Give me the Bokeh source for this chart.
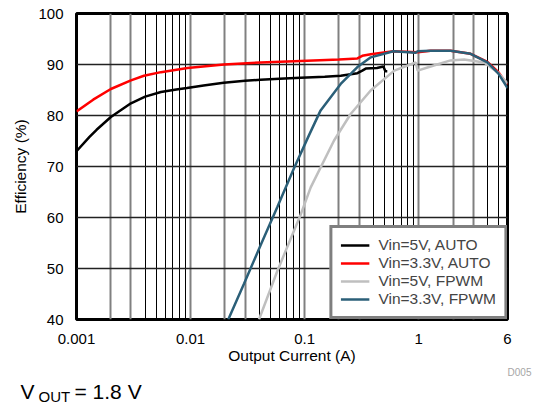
from bokeh.plotting import figure
from bokeh.layouts import column
from bokeh.models import FixedTicker, Grid, Legend, LegendItem, Label, CustomJSTickFormatter, Range1d
from bokeh.embed import file_html
from bokeh.resources import INLINE

# ---- data ----
x_5v_auto = [0.001, 0.0013, 0.0015, 0.002, 0.003, 0.004, 0.0055, 0.0075, 0.0093, 0.013, 0.0195,
             0.03, 0.041, 0.06, 0.092, 0.15, 0.207, 0.29, 0.32, 0.343, 0.43, 0.49, 0.51, 0.53]
y_5v_auto = [73.0, 75.8, 77.2, 79.7, 82.4, 83.7, 84.6, 85.1, 85.4, 85.9, 86.4,
             86.8, 87.0, 87.2, 87.4, 87.6, 87.8, 88.3, 88.8, 89.2, 89.3, 89.6, 88.7, 88.7]

x_33v_auto = [0.001, 0.0014, 0.002, 0.003, 0.0039, 0.0055, 0.0094, 0.0196, 0.041, 0.092, 0.2,
              0.29, 0.32, 0.38, 0.6, 0.98, 1.27, 1.9, 2.85, 4.0, 5.0, 6.0]
y_33v_auto = [80.8, 83.1, 85.2, 86.9, 87.8, 88.5, 89.3, 90.0, 90.4, 90.7, 91.0,
              91.2, 91.7, 92.0, 92.6, 92.4, 92.7, 92.7, 92.1, 90.5, 88.5, 86.0]

x_5v_fpwm = [0.0398, 0.0576, 0.092, 0.113, 0.181, 0.253, 0.379, 0.61, 0.94, 0.98, 1.27,
             1.9, 2.5, 3.75, 4.9, 6.0]
y_5v_fpwm = [40.0, 49.5, 60.5, 65.9, 75.1, 80.3, 84.9, 88.8, 90.4, 88.8, 89.6,
             90.8, 91.0, 90.4, 88.5, 86.3]

x_33v_fpwm = [0.0214, 0.0294, 0.041, 0.0575, 0.0801, 0.109, 0.138, 0.207, 0.29, 0.38, 0.6,
              0.94, 0.98, 1.27, 1.9, 2.85, 4.0, 5.0, 6.0]
y_33v_fpwm = [40.0, 47.0, 54.5, 62.0, 69.5, 76.1, 81.0, 86.2, 89.5, 91.4, 92.6,
              92.3, 92.6, 92.7, 92.7, 92.1, 90.4, 88.2, 85.4]

series_labels = ["Vin=5V, AUTO", "Vin=3.3V, AUTO", "Vin=5V, FPWM", "Vin=3.3V, FPWM"]
series_colors = ["#000000", "#ff0000", "#bfbfbf", "#2b5f78"]

x_ticks = [0.001, 0.01, 0.1, 1, 6]
y_ticks = [40, 50, 60, 70, 80, 90, 100]

FONT = "Liberation Sans"
W = 534
H_MAIN = 366
H_NOTE = 40

p = figure(width=W, height=H_MAIN, x_axis_type="log", x_range=(0.001, 6), y_range=(40, 100),
           output_backend="svg", toolbar_location=None, title=None,
           min_border_left=76, min_border_right=27, min_border_top=13, min_border_bottom=47)
p.frame_align = False

p.outline_line_color = "black"
p.outline_line_width = 3
p.grid.visible = False

# vertical grid: 1,2,3 multiples gray/thicker; 4..9 multiples black/thin
decades = [0.001, 0.01, 0.1, 1]
gray_pos = [d * m for d in decades for m in (1, 2, 3) if d * m > 0.001]
black_pos = [d * m for d in decades for m in (4, 5, 6, 7, 8, 9) if d * m < 6]
p.add_layout(Grid(dimension=0, ticker=FixedTicker(ticks=gray_pos),
                  grid_line_color="#808080", grid_line_width=2))
p.add_layout(Grid(dimension=0, ticker=FixedTicker(ticks=black_pos),
                  grid_line_color="#000000", grid_line_width=1))
p.add_layout(Grid(dimension=1, ticker=FixedTicker(ticks=y_ticks[1:-1]),
                  grid_line_color="#222222", grid_line_width=1.3))

# axes
p.xaxis.ticker = FixedTicker(ticks=x_ticks)
p.xaxis.formatter = CustomJSTickFormatter(code="return tick.toString()")
p.yaxis.ticker = FixedTicker(ticks=y_ticks)
for ax in (p.xaxis[0], p.yaxis[0]):
    ax.axis_line_color = None
    ax.major_tick_line_color = None
    ax.minor_tick_line_color = None
    ax.major_label_text_font = FONT
    ax.major_label_text_font_size = "15px"
    ax.major_label_text_color = "black"
    ax.axis_label_text_font = FONT
    ax.axis_label_text_font_size = "15.5px"
    ax.axis_label_text_font_style = "normal"
    ax.axis_label_text_color = "black"
p.xaxis.axis_label = "Output Current (A)"
p.yaxis.axis_label = "Efficiency (%)"
p.xaxis.major_label_standoff = 8
p.xaxis.axis_label_standoff = 0
p.yaxis.major_label_standoff = 7
p.yaxis.axis_label_standoff = 6

# series
xs = [x_5v_auto, x_33v_auto, x_5v_fpwm, x_33v_fpwm]
ys = [y_5v_auto, y_33v_auto, y_5v_fpwm, y_33v_fpwm]
renderers = []
for x, y, c in zip(xs, ys, series_colors):
    renderers.append(p.line(x, y, line_color=c, line_width=2.5))

legend = Legend(items=[LegendItem(label=l, renderers=[r]) for l, r in zip(series_labels, renderers)],
                location="bottom_right", margin=0, padding=8, spacing=0,
                label_height=18, glyph_height=18, glyph_width=29, label_standoff=9,
                label_text_font=FONT, label_text_font_size="15.5px",
                border_line_color="black", border_line_width=3,
                background_fill_color="white", background_fill_alpha=1.0)
p.add_layout(legend)

# note strip below the chart (page-pixel coordinates: y grows downward)
q = figure(width=W, height=H_NOTE, x_range=Range1d(0, W), y_range=Range1d(H_MAIN + H_NOTE, H_MAIN),
           output_backend="svg", toolbar_location=None, x_axis_location=None, y_axis_location=None,
           title=None, min_border=0, min_border_left=0, min_border_right=0, min_border_top=0,
           min_border_bottom=0)
q.frame_align = False
q.outline_line_color = None
q.grid.visible = False

q.add_layout(Label(x=519, y=372, text="D005",
                   text_font=FONT, text_font_size="10px", text_color="#a6a6a6",
                   text_align="center", text_baseline="middle"))
q.add_layout(Label(x=20, y=391, text="V",
                   text_font=FONT, text_font_size="21px", text_color="black",
                   text_align="left", text_baseline="middle"))
q.add_layout(Label(x=38, y=396, text="OUT",
                   text_font=FONT, text_font_size="15px", text_color="black",
                   text_align="left", text_baseline="middle"))
q.add_layout(Label(x=74, y=391, text="= 1.8 V",
                   text_font=FONT, text_font_size="21px", text_color="black",
                   text_align="left", text_baseline="middle"))

open("out.html", "w").write(file_html(column(p, q, spacing=0), INLINE))
